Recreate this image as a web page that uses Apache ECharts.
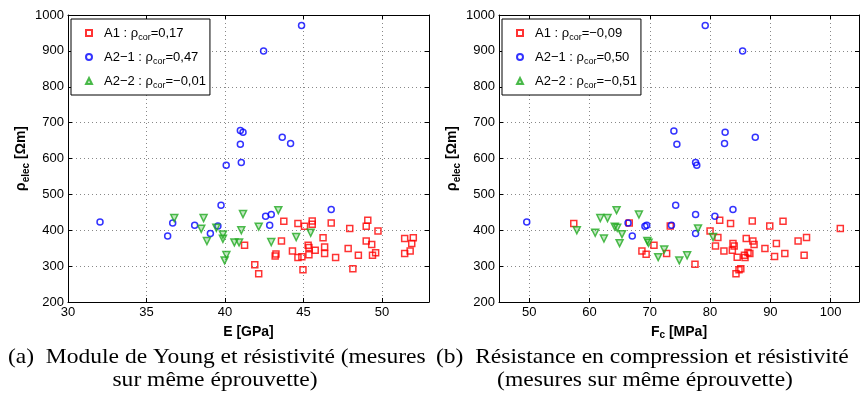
<!DOCTYPE html>
<html>
<head>
<meta charset="utf-8">
<script src="https://cdn.jsdelivr.net/npm/echarts@6/dist/echarts.min.js"></script>
<style>
  html, body { margin: 0; padding: 0; background: #fff; }
  #main { width: 860px; height: 415px; }
</style>
</head>
<body>
<div id="main"></div>
<script>
// (a) E [GPa] vs rho_elec
var leftA1 = [[41.25,358],[41.9,304],[42.15,279],[43.25,334],[43.2,328],[43.75,425],[43.6,370],[44.3,342],[44.65,419],[44.65,324],
  [44.9,326],[44.97,290],[45.07,411],[45.3,358],[45.35,352],[45.35,332],[45.56,426],[45.56,417],[45.75,344],[46.25,379],
  [46.35,353],[46.35,335],[46.77,420],[47.05,324],[47.85,349],[47.95,405],[48.15,293],[48.5,330],[49.0,370],[49.0,411],
  [49.1,428],[49.35,360],[49.4,330],[49.6,337],[49.75,398],[51.45,377],[51.45,335],[51.8,342],[51.9,363],[52.0,379]];
var leftA21 = [[32.04,423],[36.35,384],[36.67,420],[38.07,414],[39.07,391],[39.55,412],[39.75,470],[40.08,581],[40.98,640],[40.98,678],
  [41.15,673],[41.04,589],[42.46,900],[42.59,439],[42.95,444],[42.85,414],[43.65,659],[44.18,642],[44.88,971],[46.77,458]];
var leftA22 = [[36.77,434],[38.49,404],[38.64,434],[38.85,370],[39.45,407],[39.87,388],[39.87,376],[40.09,331],[39.98,316],[40.6,366],
  [40.9,366],[41.15,445],[41.04,400],[42.15,410],[43.4,456],[42.95,367],[44.54,381],[45.46,393]];

// (b) Fc [MPa] vs rho_elec
var rightA1 = [[57.4,419],[66.6,420],[68.7,342],[69.4,333],[70.7,358],[72.8,335],[73.4,412],[77.5,305],[80.0,398],[80.9,356],
  [81.3,380],[81.6,428],[82.3,342],[83.4,419],[83.8,363],[84.0,356],[83.7,344],[84.5,325],[84.3,279],[84.8,290],
  [85.1,293],[85.7,330],[85.8,324],[86.0,377],[86.3,338],[86.6,335],[87.0,426],[87.1,370],[87.3,360],[89.1,349],
  [89.9,412],[90.7,327],[91.0,363],[92.1,425],[92.4,335],[94.6,370],[95.6,330],[96.0,380],[101.6,405]];
var rightA21 = [[49.6,423],[66.4,420],[67.1,384],[69.2,411],[69.5,414],[73.6,414],[74.0,677],[74.5,640],[74.3,470],[77.6,589],
  [77.8,581],[77.6,444],[77.6,391],[79.2,971],[80.8,439],[82.5,673],[82.4,642],[83.8,458],[85.4,900],[87.5,659]];
var rightA22 = [[57.9,400],[60.95,393],[61.8,434],[63.0,434],[62.4,377],[64.5,456],[64.2,410],[64.6,407],[65.4,389],[65.0,364],
  [68.2,444],[69.6,370],[69.8,365],[71.4,325],[72.4,346],[74.9,316],[76.2,330],[78.0,405],[80.5,381]];

var leftXTicks = [30, 35, 40, 45, 50];
var rightXTicks = [50, 60, 70, 80, 90, 100];
var leftCor = { 'A1': '0,17', 'A2-1': '0,47', 'A2-2': '−0,01' };
var rightCor = { 'A1': '−0,09', 'A2-1': '0,50', 'A2-2': '−0,51' };

var FONT = 'Liberation Sans';
var sub = { fontSize: 9, fontFamily: FONT, verticalAlign: 'bottom', lineHeight: 9 };
var nameSub = { fontSize: 10, fontFamily: FONT, fontWeight: 'bold', verticalAlign: 'bottom', lineHeight: 10 };
var gridLine = { show: true, lineStyle: { color: '#888', width: 1, type: [1, 3] } };
var black = { lineStyle: { color: '#000', width: 1 } };
var plain = function (v) { return String(v); };

function legendLabel(cor) {
  return function (name) {
    return '{g|}' + name.replace('-', '−') + ' : ρ{s|cor}=' + cor[name];
  };
}

function xAxes(gi, min, max, labels) {
  return [{
    gridIndex: gi, type: 'value', min: min, max: max, interval: 5,
    axisLine: black, axisTick: { inside: true, length: 4, customValues: labels, lineStyle: { color: '#000' } },
    axisLabel: { customValues: labels, formatter: plain, color: '#000', fontFamily: FONT, fontSize: 13, margin: 4 },
    splitLine: Object.assign({ customValues: labels }, gridLine)
  }, {
    gridIndex: gi, type: 'value', position: 'top', min: min, max: max, interval: 5,
    axisLine: black, axisTick: { inside: true, length: 4, customValues: labels, lineStyle: { color: '#000' } },
    axisLabel: { show: false }, splitLine: { show: false }
  }];
}

function yAxes(gi) {
  return [{
    gridIndex: gi, type: 'value', min: 200, max: 1000, interval: 100,
    axisLine: black, axisTick: { inside: true, length: 4, lineStyle: { color: '#000' } },
    axisLabel: { formatter: plain, color: '#000', fontFamily: FONT, fontSize: 13, margin: 4 },
    splitLine: gridLine,
    name: 'ρ{s|elec} [Ωm]', nameLocation: 'middle', nameGap: 37, nameRotate: 90,
    nameTextStyle: { color: '#000', fontFamily: FONT, fontSize: 14, fontWeight: 'bold', lineHeight: 19,
      rich: { s: nameSub } }
  }, {
    gridIndex: gi, type: 'value', position: 'right', min: 200, max: 1000, interval: 100,
    axisLine: black, axisTick: { inside: true, length: 4, lineStyle: { color: '#000' } },
    axisLabel: { show: false }, splitLine: { show: false }
  }];
}

function series(xi, yi, a1, a21, a22) {
  return [
    { name: 'A1', type: 'scatter', xAxisIndex: xi, yAxisIndex: yi, data: a1, symbol: 'rect', symbolSize: 6,
      itemStyle: { color: 'rgba(0,0,0,0)', borderColor: '#ff0000', borderWidth: 1.5 } },
    { name: 'A2-1', type: 'scatter', xAxisIndex: xi, yAxisIndex: yi, data: a21, symbol: 'circle', symbolSize: 6,
      itemStyle: { color: 'rgba(0,0,0,0)', borderColor: '#0000ff', borderWidth: 1.5 } },
    { name: 'A2-2', type: 'scatter', xAxisIndex: xi, yAxisIndex: yi, data: a22, symbol: 'triangle', symbolSize: 7, symbolRotate: 180,
      itemStyle: { color: 'rgba(40,170,40,0.35)', borderColor: '#22aa22', borderWidth: 1.5 } }
  ];
}

function legend(left, cor) {
  return {
    orient: 'vertical', left: left, top: 19, itemWidth: 6, itemHeight: 6, itemGap: 6,
    padding: [5, 4, 5, 14], borderColor: '#000', borderWidth: 1, backgroundColor: '#fff',
    data: ['A1', 'A2-1', 'A2-2'], formatter: legendLabel(cor), selectedMode: false,
    textStyle: { color: '#000', fontFamily: FONT, fontSize: 13, lineHeight: 18, rich: { s: sub, g: { width: 7 } } }
  };
}

var xName = function (text) {
  return {
    name: text, nameLocation: 'middle', nameGap: 11,
    nameTextStyle: { color: '#000', fontFamily: FONT, fontSize: 14, fontWeight: 'bold', lineHeight: 16,
      rich: { s: nameSub } }
  };
};

var lx = xAxes(0, 30, 53, leftXTicks);
Object.assign(lx[0], xName('E [GPa]'));
var rx = xAxes(1, 45, 104.7, rightXTicks);
Object.assign(rx[0], xName('F{s|c} [MPa]'));

function caption(text, x, y, align) {
  return {
    type: 'text', x: x, y: y, scaleX: 1.12,
    style: { text: text, fill: '#000', fontFamily: 'Liberation Serif', fontSize: 21,
      textAlign: align, textVerticalAlign: 'middle' }
  };
}

var option = {
  animation: false,
  backgroundColor: '#fff',
  grid: [
    { left: 68, top: 15, width: 361, height: 287 },
    { left: 499, top: 15, width: 360, height: 287 }
  ],
  xAxis: lx.concat(rx),
  yAxis: yAxes(0).concat(yAxes(1)),
  legend: [legend(71, leftCor), legend(502, rightCor)],
  series: series(0, 0, leftA1, leftA21, leftA22).concat(series(2, 2, rightA1, rightA21, rightA22)),
  graphic: [
    caption('(a)  Module de Young et résistivité (mesures', 8, 357, 'left'),
    caption('sur même éprouvette)', 215, 380, 'center'),
    caption('(b)  Résistance en compression et résistivité', 436, 357, 'left'),
    caption('(mesures sur même éprouvette)', 645, 380, 'center')
  ]
};

var chart = echarts.init(document.getElementById('main'));
chart.setOption(option);
</script>
</body>
</html>
